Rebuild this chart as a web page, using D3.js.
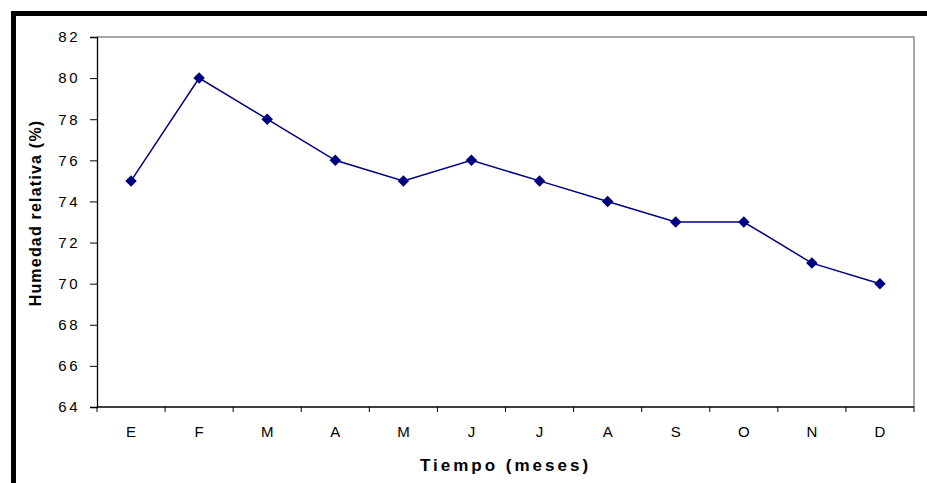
<!DOCTYPE html>
<html>
<head>
<meta charset="utf-8">
<script src="https://cdn.jsdelivr.net/npm/d3@7"></script>
<style>
  body { margin: 0; background: #fff; }
  text { font-family: "Liberation Sans", Arial, sans-serif; }
</style>
</head>
<body>
<div id="chart"></div>
<script>
const months = ["E", "F", "M", "A", "M", "J", "J", "A", "S", "O", "N", "D"];
const humidity = [75, 80, 78, 76, 75, 76, 75, 74, 73, 73, 71, 70];
const yTicks = [64, 66, 68, 70, 72, 74, 76, 78, 80, 82];

const size = { width: 927, height: 483 };
const plot = { left: 97, right: 914, top: 37, bottom: 407 };

const svg = d3.select("#chart")
  .append("svg")
  .attr("width", size.width)
  .attr("height", size.height);

// heavy black frame (only top and left are inside the window)
svg.append("rect")
  .attr("x", 13.5)
  .attr("y", 13.5)
  .attr("width", 1000)
  .attr("height", 1000)
  .attr("fill", "none")
  .attr("stroke", "#000")
  .attr("stroke-width", 5);

const x = d3.scaleBand()
  .domain(d3.range(months.length))
  .range([plot.left, plot.right]);

const y = d3.scaleLinear()
  .domain([64, 82])
  .range([plot.bottom, plot.top]);

// plot area outline: gray top and right
svg.append("path")
  .attr("d", `M${plot.left},${plot.top}H${plot.right}V${plot.bottom}`)
  .attr("fill", "none")
  .attr("stroke", "#8c8c8c")
  .attr("stroke-width", 1.5);

// y axis
const yAxis = svg.append("g")
  .attr("transform", `translate(${plot.left},0)`)
  .call(d3.axisLeft(y).tickValues(yTicks).tickSize(7).tickPadding(12).tickFormat(d3.format("d")));
yAxis.select(".domain").attr("stroke", "#000").attr("stroke-width", 1.3);
yAxis.selectAll(".tick line").attr("stroke", "#000");
yAxis.selectAll("text")
  .attr("fill", "#000")
  .style("font-size", "15px")
  .style("letter-spacing", "2.5px")
  .attr("dx", 2);

// x axis, ticks at band boundaries
const xAxis = svg.append("g")
  .attr("transform", `translate(0,${plot.bottom})`)
  .call(d3.axisBottom(x).tickSize(0).tickPadding(19).tickFormat((i) => months[i]));
xAxis.select(".domain").remove();
xAxis.selectAll("text")
  .attr("fill", "#000")
  .style("font-size", "15px");

svg.append("line")
  .attr("x1", plot.left).attr("x2", plot.right)
  .attr("y1", plot.bottom).attr("y2", plot.bottom)
  .attr("stroke", "#000")
  .attr("stroke-width", 1.3);

svg.append("g")
  .selectAll("line")
  .data(d3.range(months.length + 1))
  .join("line")
  .attr("x1", (i) => plot.left + i * x.step())
  .attr("x2", (i) => plot.left + i * x.step())
  .attr("y1", plot.bottom)
  .attr("y2", plot.bottom + 5)
  .attr("stroke", "#000");

// axis titles
svg.append("text")
  .attr("x", (plot.left + plot.right) / 2)
  .attr("y", 471)
  .attr("text-anchor", "middle")
  .style("font-size", "17px")
  .style("font-weight", "bold")
  .style("letter-spacing", "3px")
  .text("Tiempo (meses)");

svg.append("text")
  .attr("transform", `translate(41,${213}) rotate(-90)`)
  .attr("text-anchor", "middle")
  .style("font-size", "16px")
  .style("font-weight", "bold")
  .style("letter-spacing", "1.2px")
  .text("Humedad relativa (%)");

// line and markers
const line = d3.line()
  .x((d, i) => x(i) + x.bandwidth() / 2)
  .y((d) => y(d));

svg.append("path")
  .datum(humidity)
  .attr("d", line)
  .attr("fill", "none")
  .attr("stroke", "#000080")
  .attr("stroke-width", 1.5);

svg.append("g")
  .selectAll("path")
  .data(humidity)
  .join("path")
  .attr("d", d3.symbol(d3.symbolSquare, 66))
  .attr("transform", (d, i) => `translate(${x(i) + x.bandwidth() / 2},${y(d)}) rotate(45)`)
  .attr("fill", "#000080");
</script>
</body>
</html>
